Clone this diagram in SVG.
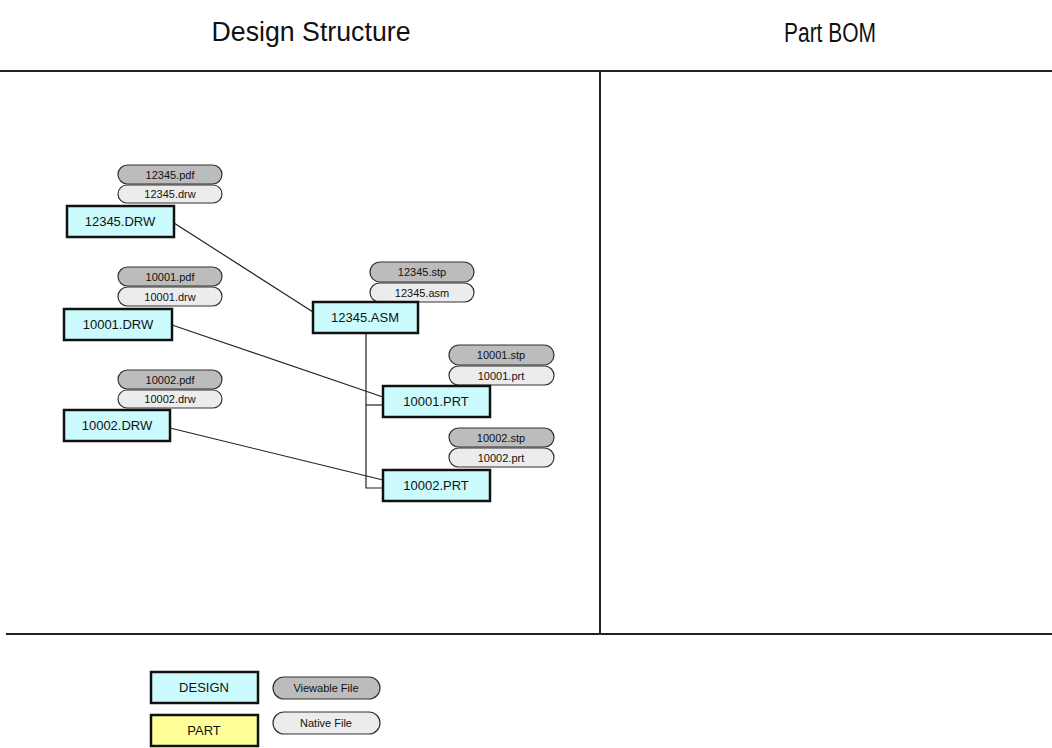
<svg xmlns="http://www.w3.org/2000/svg" width="1052" height="748" viewBox="0 0 1052 748">
<style>
.title{font-family:"Liberation Sans",Arial,sans-serif;font-size:27px;fill:#111}
.box{fill:#ccfbfd;stroke:#111;stroke-width:2.5}
.part{fill:#ffff99;stroke:#111;stroke-width:2.5}
.lbl{font-family:"Liberation Sans",Arial,sans-serif;font-size:13px;fill:#111;text-anchor:middle}
.view{fill:#bcbcbc;stroke:#333;stroke-width:1.2}
.nat{fill:#ececec;stroke:#333;stroke-width:1.2}
.sm{font-family:"Liberation Sans",Arial,sans-serif;font-size:11px;fill:#111;text-anchor:middle}
.frame{stroke:#222;stroke-width:2;fill:none}
.conn{stroke:#222;stroke-width:1.2;fill:none}
</style>
<rect width="1052" height="748" fill="#fff"/>
<g id="frame">
<text class="title" x="311" y="41" text-anchor="middle" textLength="199" lengthAdjust="spacingAndGlyphs">Design Structure</text>
<text class="title" x="830" y="42" text-anchor="middle" textLength="92" lengthAdjust="spacingAndGlyphs">Part BOM</text>
<line class="frame" x1="0" y1="71" x2="1052" y2="71"/>
<line class="frame" x1="6" y1="634" x2="1052" y2="634"/>
<line class="frame" x1="600" y1="71" x2="600" y2="634"/>
</g>
<g id="connectors">
<line class="conn" x1="174" y1="223" x2="313" y2="312"/>
<line class="conn" x1="172" y1="325" x2="383" y2="397"/>
<line class="conn" x1="170" y1="428" x2="383" y2="480"/>
<polyline class="conn" points="366,333 366,488 383,488"/>
<line class="conn" x1="366" y1="405" x2="383" y2="405"/>
</g>
<g id="n12345drw">
<rect class="view" x="118" y="165" width="104" height="19" rx="9.5"/>
<text class="sm" x="170" y="178.500">12345.pdf</text>
<rect class="nat" x="118" y="185" width="104" height="18" rx="9"/>
<text class="sm" x="170" y="198">12345.drw</text>
<rect class="box" x="67" y="206" width="107" height="31"/>
<text class="lbl" x="120" y="226">12345.DRW</text>
</g>
<g id="n10001drw">
<rect class="view" x="118" y="267" width="104" height="19" rx="9.5"/>
<text class="sm" x="170" y="280.500">10001.pdf</text>
<rect class="nat" x="118" y="287" width="104" height="19" rx="9.5"/>
<text class="sm" x="170" y="300.500">10001.drw</text>
<rect class="box" x="64" y="309" width="108" height="31"/>
<text class="lbl" x="118" y="329">10001.DRW</text>
</g>
<g id="n10002drw">
<rect class="view" x="118" y="370" width="104" height="19" rx="9.5"/>
<text class="sm" x="170" y="383.500">10002.pdf</text>
<rect class="nat" x="118" y="390" width="104" height="18" rx="9"/>
<text class="sm" x="170" y="403">10002.drw</text>
<rect class="box" x="64" y="410" width="106" height="31"/>
<text class="lbl" x="117" y="430">10002.DRW</text>
</g>
<g id="n12345asm">
<rect class="view" x="370" y="262" width="104" height="20" rx="10"/>
<text class="sm" x="422" y="276">12345.stp</text>
<rect class="nat" x="370" y="283" width="104" height="19" rx="9.5"/>
<text class="sm" x="422" y="296.500">12345.asm</text>
<rect class="box" x="313" y="302" width="105" height="31"/>
<text class="lbl" x="365" y="322">12345.ASM</text>
</g>
<g id="n10001prt">
<rect class="view" x="449" y="345" width="105" height="20" rx="10"/>
<text class="sm" x="501" y="359">10001.stp</text>
<rect class="nat" x="449" y="366" width="105" height="19" rx="9.5"/>
<text class="sm" x="501" y="379.500">10001.prt</text>
<rect class="box" x="383" y="386" width="107" height="31"/>
<text class="lbl" x="436" y="406">10001.PRT</text>
</g>
<g id="n10002prt">
<rect class="view" x="449" y="428" width="105" height="19" rx="9.5"/>
<text class="sm" x="501" y="441.500">10002.stp</text>
<rect class="nat" x="449" y="448" width="105" height="19" rx="9.5"/>
<text class="sm" x="501" y="461.500">10002.prt</text>
<rect class="box" x="383" y="470" width="107" height="31"/>
<text class="lbl" x="436" y="490">10002.PRT</text>
</g>
<g id="legend">
<rect class="box" x="151" y="672" width="107" height="31"/>
<text class="lbl" x="204" y="692">DESIGN</text>
<rect class="part" x="151" y="715" width="107" height="31"/>
<text class="lbl" x="204" y="735">PART</text>
<rect class="view" x="273" y="677" width="107" height="22" rx="11"/>
<text class="sm" x="326" y="692">Viewable File</text>
<rect class="nat" x="273" y="712" width="107" height="22" rx="11"/>
<text class="sm" x="326" y="727">Native File</text>
</g>
</svg>
